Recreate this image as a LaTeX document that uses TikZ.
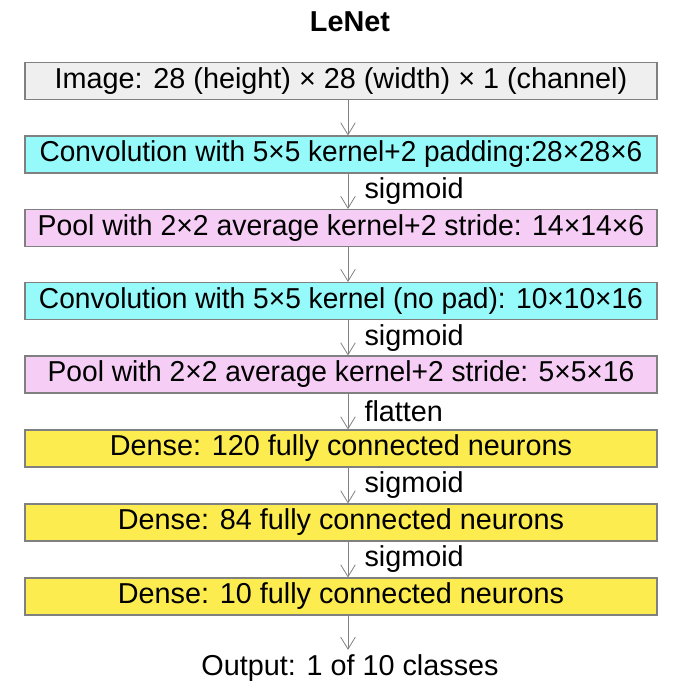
\documentclass[tikz,border=0pt]{standalone}
\usepackage{fontspec}
\setmainfont{Liberation Sans}
\usepackage{graphicx}
\usetikzlibrary{arrows.meta}

\definecolor{imggray}{RGB}{239,239,239}
\definecolor{convcyan}{RGB}{150,250,250}
\definecolor{poolpink}{RGB}{245,205,245}
\definecolor{densey}{RGB}{252,236,80}
\definecolor{edgegray}{RGB}{128,128,128}

% squeeze a label to a given width, keep its height
\newcommand{\squeeze}[2]{\resizebox{#1}{\height}{#2}}

\begin{document}
\begin{tikzpicture}[x=0.75pt, y=-0.75pt,
    layer/.style={draw=edgegray, line width=0.8pt, minimum width=474pt, minimum height=27.75pt, inner sep=0pt, font=\fontsize{21.6}{24}\selectfont},
    flow/.style={draw=edgegray, line width=0.75pt, -{Straight Barb[length=9pt, width=11pt, line width=0.6pt]}},
    act/.style={right, inner sep=0pt, xshift=12pt, font=\fontsize{21.6}{24}\selectfont}]
    \useasboundingbox (0, 0) rectangle (684, 694);

    \node[font=\fontsize{21.6}{24}\selectfont\bfseries] at (350, 22) (title) {LeNet};

    \node[layer, fill=imggray] at (341, 81) (img) {Image: 28 (height) × 28 (width) × 1 (channel)};
    \node[layer, fill=convcyan] at (341, 154.5) (conv1) {\squeeze{452pt}{Convolution with 5×5 kernel+2 padding:28×28×6}};
    \node[layer, fill=poolpink] at (341, 228) (pool1) {\squeeze{455pt}{Pool with 2×2 average kernel+2 stride: 14×14×6}};
    \node[layer, fill=convcyan] at (341, 301) (conv2) {\squeeze{453pt}{Convolution with 5×5 kernel (no pad): 10×10×16}};
    \node[layer, fill=poolpink] at (341, 374.5) (pool2) {\squeeze{440pt}{Pool with 2×2 average kernel+2 stride: 5×5×16}};
    \node[layer, fill=densey] at (341, 448.5) (fc1) {Dense: 120 fully connected neurons};
    \node[layer, fill=densey] at (341, 522.5) (fc2) {Dense: 84 fully connected neurons};
    \node[layer, fill=densey] at (341, 596.5) (fc3) {Dense: 10 fully connected neurons};
    \node[font=\fontsize{21.6}{24}\selectfont] at (350, 668) (out) {Output: 1 of 10 classes};

    \draw[flow] ([xshift=5.25pt]img.south) -- ([xshift=5.25pt]conv1.north);
    \draw[flow] ([xshift=5.25pt]conv1.south) -- node[act] (s1) {sigmoid} ([xshift=5.25pt]pool1.north);
    \draw[flow] ([xshift=5.25pt]pool1.south) -- ([xshift=5.25pt]conv2.north);
    \draw[flow] ([xshift=5.25pt]conv2.south) -- node[act] (s2) {sigmoid} ([xshift=5.25pt]pool2.north);
    \draw[flow] ([xshift=5.25pt]pool2.south) -- node[act] (fl) {flatten} ([xshift=5.25pt]fc1.north);
    \draw[flow] ([xshift=5.25pt]fc1.south) -- node[act] (s3) {sigmoid} ([xshift=5.25pt]fc2.north);
    \draw[flow] ([xshift=5.25pt]fc2.south) -- node[act] (s4) {sigmoid} ([xshift=5.25pt]fc3.north);
    \draw[flow] ([xshift=5.25pt]fc3.south) -- ([xshift=5.25pt]fc3.south |- out.north);
\end{tikzpicture}
\end{document}
